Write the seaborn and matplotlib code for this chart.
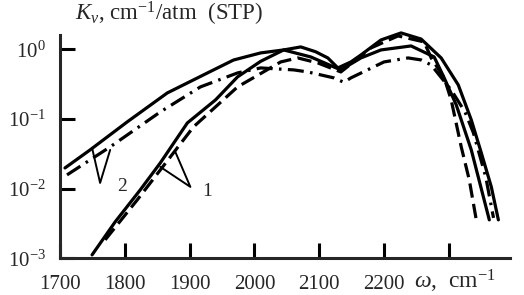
import numpy as np
import pandas as pd
import matplotlib
matplotlib.use("Agg")
import matplotlib.pyplot as plt
import seaborn as sns
from matplotlib.ticker import FixedLocator, FixedFormatter, NullLocator

# ---- data ----
s1_x = [1749.5, 1785.1, 1823.8, 1854.8, 1896.6, 1939.9, 1974.0, 2009.6, 2045.2, 2071.5,
        2094.5, 2113.3, 2128.8, 2148.9, 2164.4, 2195.4, 2226.3, 2257.3, 2288.2, 2314.6,
        2334.7, 2350.2, 2365.6, 2376.5]
s1_y = [0.00112, 0.00333, 0.00958, 0.02338, 0.0877, 0.187, 0.401, 0.67, 0.977, 1.079,
        0.92, 0.750, 0.539, 0.657, 0.828, 1.359, 1.714, 1.40, 0.750, 0.3076,
        0.0968, 0.0325, 0.01058, 0.00356]

d1_x = [1769.7, 1819.2, 1854.8, 1905.9, 1974.0, 2040.6, 2066.9, 2097.8, 2133.4, 2156.7,
        2179.9, 2221.7, 2261.9, 2272.8, 2292.9, 2303.7, 2319.2, 2331.6, 2342.4]
d1_y = [0.00184, 0.00689, 0.01854, 0.0767, 0.288, 0.657, 0.750, 0.636, 0.472, 0.70,
        1.044, 1.552, 1.273, 0.75, 0.388, 0.187, 0.0397, 0.01333, 0.00356]

s2_x = [1707.7, 1746.4, 1803.7, 1865.6, 1927.6, 1967.8, 2009.6, 2045.2, 2087.0, 2122.6,
        2133.4, 2164.4, 2195.4, 2241.8, 2277.4, 2292.9, 2311.5, 2334.7, 2362.5]
s2_y = [0.0198, 0.0359, 0.0906, 0.236, 0.457, 0.70, 0.885, 0.977, 0.775, 0.557,
        0.505, 0.750, 0.977, 1.115, 0.775, 0.388, 0.159, 0.0359, 0.00356]

dd2_x = [1710.8, 1777.4, 1854.8, 1916.7, 1974.0, 2009.6, 2060.7, 2082.4, 2122.6, 2138.1,
         2148.9, 2200.0, 2237.2, 2257.3, 2272.8, 2303.7, 2325.0, 2338.0, 2357.0, 2369.0]
dd2_y = [0.01573, 0.0397, 0.126, 0.288, 0.457, 0.539, 0.505, 0.472, 0.388, 0.335,
         0.388, 0.657, 0.750, 0.702, 0.595, 0.26, 0.126, 0.063, 0.0147, 0.0038]

# curve labels with their two leader lines
lbl_names = ["1", "2"]
lbl_text_x = [1927.6, 1796.0]
lbl_text_y = [0.00897, 0.01058]
lbl_apex_x = [1901.2, 1761.9]
lbl_apex_y = [0.01058, 0.01207]
lbl_arm1_x = [1878.0, 1749.5]
lbl_arm1_y = [0.0336, 0.0384]
lbl_arm2_x = [1854.8, 1777.4]
lbl_arm2_y = [0.0205, 0.0359]

x_ticks = [1700, 1800, 1900, 2000, 2100, 2200, 2300]
x_tick_labels = ["1700", "1800", "1900", "2000", "2100", "2200", ""]
y_ticks = [1e-3, 1e-2, 1e-1, 1e0]
y_tick_labels = [r"$10^{-3}$", r"$10^{-2}$", r"$10^{-1}$", r"$10^{0}$"]

# ---- style ----
sns.set_style("ticks")
plt.rcParams["font.family"] = ["Liberation Serif", "DejaVu Serif"]
plt.rcParams["mathtext.fontset"] = "custom"
plt.rcParams["mathtext.rm"] = "Liberation Serif"
plt.rcParams["mathtext.it"] = "Liberation Serif:italic"
plt.rcParams["mathtext.bf"] = "Liberation Serif:bold"

fig = plt.figure(figsize=(5.24, 2.95), dpi=100)
x_left_px, x_right_px = 60, 510
x_max = 1700 + (x_right_px - x_left_px) / 0.648
ax = fig.add_axes([x_left_px / 524, 1 - 258.3 / 295,
                   (x_right_px - x_left_px) / 524, (258.3 - 35) / 295])

lw = 2.3
curves = [
    (s1_x, s1_y, "-"),
    (d1_x, d1_y, (0, (4.5, 2.0))),
    (s2_x, s2_y, "-"),
    (dd2_x, dd2_y, (0, (5, 2.0, 0.8, 2.0))),
]
for cx, cy, ls in curves:
    df = pd.DataFrame({"x": cx, "y": cy})
    sns.lineplot(data=df, x="x", y="y", ax=ax, color="black", lw=lw, linestyle=ls,
                 sort=False, estimator=None, clip_on=False)

for i, name in enumerate(lbl_names):
    ax.plot([lbl_arm1_x[i], lbl_apex_x[i], lbl_arm2_x[i]],
            [lbl_arm1_y[i], lbl_apex_y[i], lbl_arm2_y[i]], color="black", lw=1.4)
    ax.text(lbl_text_x[i], lbl_text_y[i], name, fontsize=14, ha="center", va="center")

ax.set_yscale("log")
ax.set_xlim(1700, x_max)
ax.set_ylim(1e-3, 1.6)
ax.set_xticks(x_ticks)
ax.set_xticklabels(x_tick_labels, fontsize=15)
ax.yaxis.set_major_locator(FixedLocator(y_ticks))
ax.yaxis.set_major_formatter(FixedFormatter(y_tick_labels))
ax.yaxis.set_minor_locator(NullLocator())
ax.xaxis.set_minor_locator(NullLocator())
ax.tick_params(axis="y", labelsize=15, pad=10)
ax.tick_params(axis="x", pad=12)
ax.tick_params(axis="both", direction="in", length=11, width=2.2, color="black")
ax.set_xlabel("")
ax.set_ylabel("")

sns.despine(ax=ax)
ax.spines["left"].set_linewidth(2.2)
ax.spines["bottom"].set_linewidth(2.2)

fig.text(75 / 524, 1 - 14 / 295, r"$K_{\nu}$, cm$^{-1}$/atm  (STP)", fontsize=16.5,
         ha="left", va="center")
fig.text(414 / 524, 1 - 281 / 295, r"$\omega$,  cm$^{-1}$", fontsize=17,
         ha="left", va="center")

fig.savefig("out.png", dpi=100)
